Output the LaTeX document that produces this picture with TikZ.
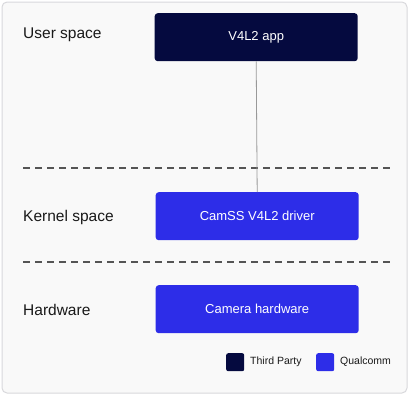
\documentclass[tikz,border=0pt]{standalone}
\usepackage{fontspec}
\setmainfont{Liberation Sans}
\definecolor{navy}{HTML}{050A3F}
\definecolor{qblue}{HTML}{2D2DE8}
\definecolor{bgfill}{HTML}{F9F9F9}
\definecolor{bgline}{HTML}{D8D8DC}
\definecolor{dashcol}{HTML}{555555}
\begin{document}
\begin{tikzpicture}[x=1pt,y=-1pt,
  blockbox/.style={rounded corners=3pt,minimum width=203pt,minimum height=48pt,inner sep=0pt,text=white,font=\fontsize{13}{15}\selectfont,anchor=north west},
  layerlabel/.style={anchor=west,inner sep=0pt,font=\fontsize{15.5}{17}\selectfont,text=black!90},
  legendsq/.style={rounded corners=2pt,minimum width=18pt,minimum height=18pt,inner sep=0pt,anchor=north west},
  legendtxt/.style={anchor=west,inner sep=0pt,font=\fontsize{10.5}{12}\selectfont,text=black!90},
  sep/.style={dashed,dash pattern=on 7pt off 5pt,draw=dashcol,line width=1.3pt}]
\useasboundingbox (0,0) rectangle (409,397);
\draw[fill=bgfill,draw=bgline,line width=1pt,rounded corners=5pt] (2,2) rectangle (407,393);
\node[layerlabel] (lu) at (23,35) {User space};
\node[layerlabel] (lk) at (23,217) {Kernel space};
\node[layerlabel] (lh) at (23,310) {Hardware};
\node[blockbox,fill=navy] (app) at (154.5,13) {V4L2 app};
\node[blockbox,fill=qblue] (drv) at (155.5,192) {CamSS V4L2 driver};
\node[blockbox,fill=qblue] (hw) at (155.5,285) {Camera hardware};
\coordinate (d1a) at (23,168); \coordinate (d1b) at (391,168);
\coordinate (d2a) at (23,262); \coordinate (d2b) at (391,262);
\draw[sep] (d1a) -- (d1b);
\draw[sep] (d2a) -- (d2b);
\draw[draw=gray!80,line width=0.8pt] (app.south) -- (drv.north);
\node[legendsq,fill=navy] (lg1) at (226,353) {};
\node[legendtxt] (lt1) at (250,362) {Third Party};
\node[legendsq,fill=qblue] (lg2) at (316,353) {};
\node[legendtxt] (lt2) at (340,362) {Qualcomm};
\end{tikzpicture}
\end{document}
